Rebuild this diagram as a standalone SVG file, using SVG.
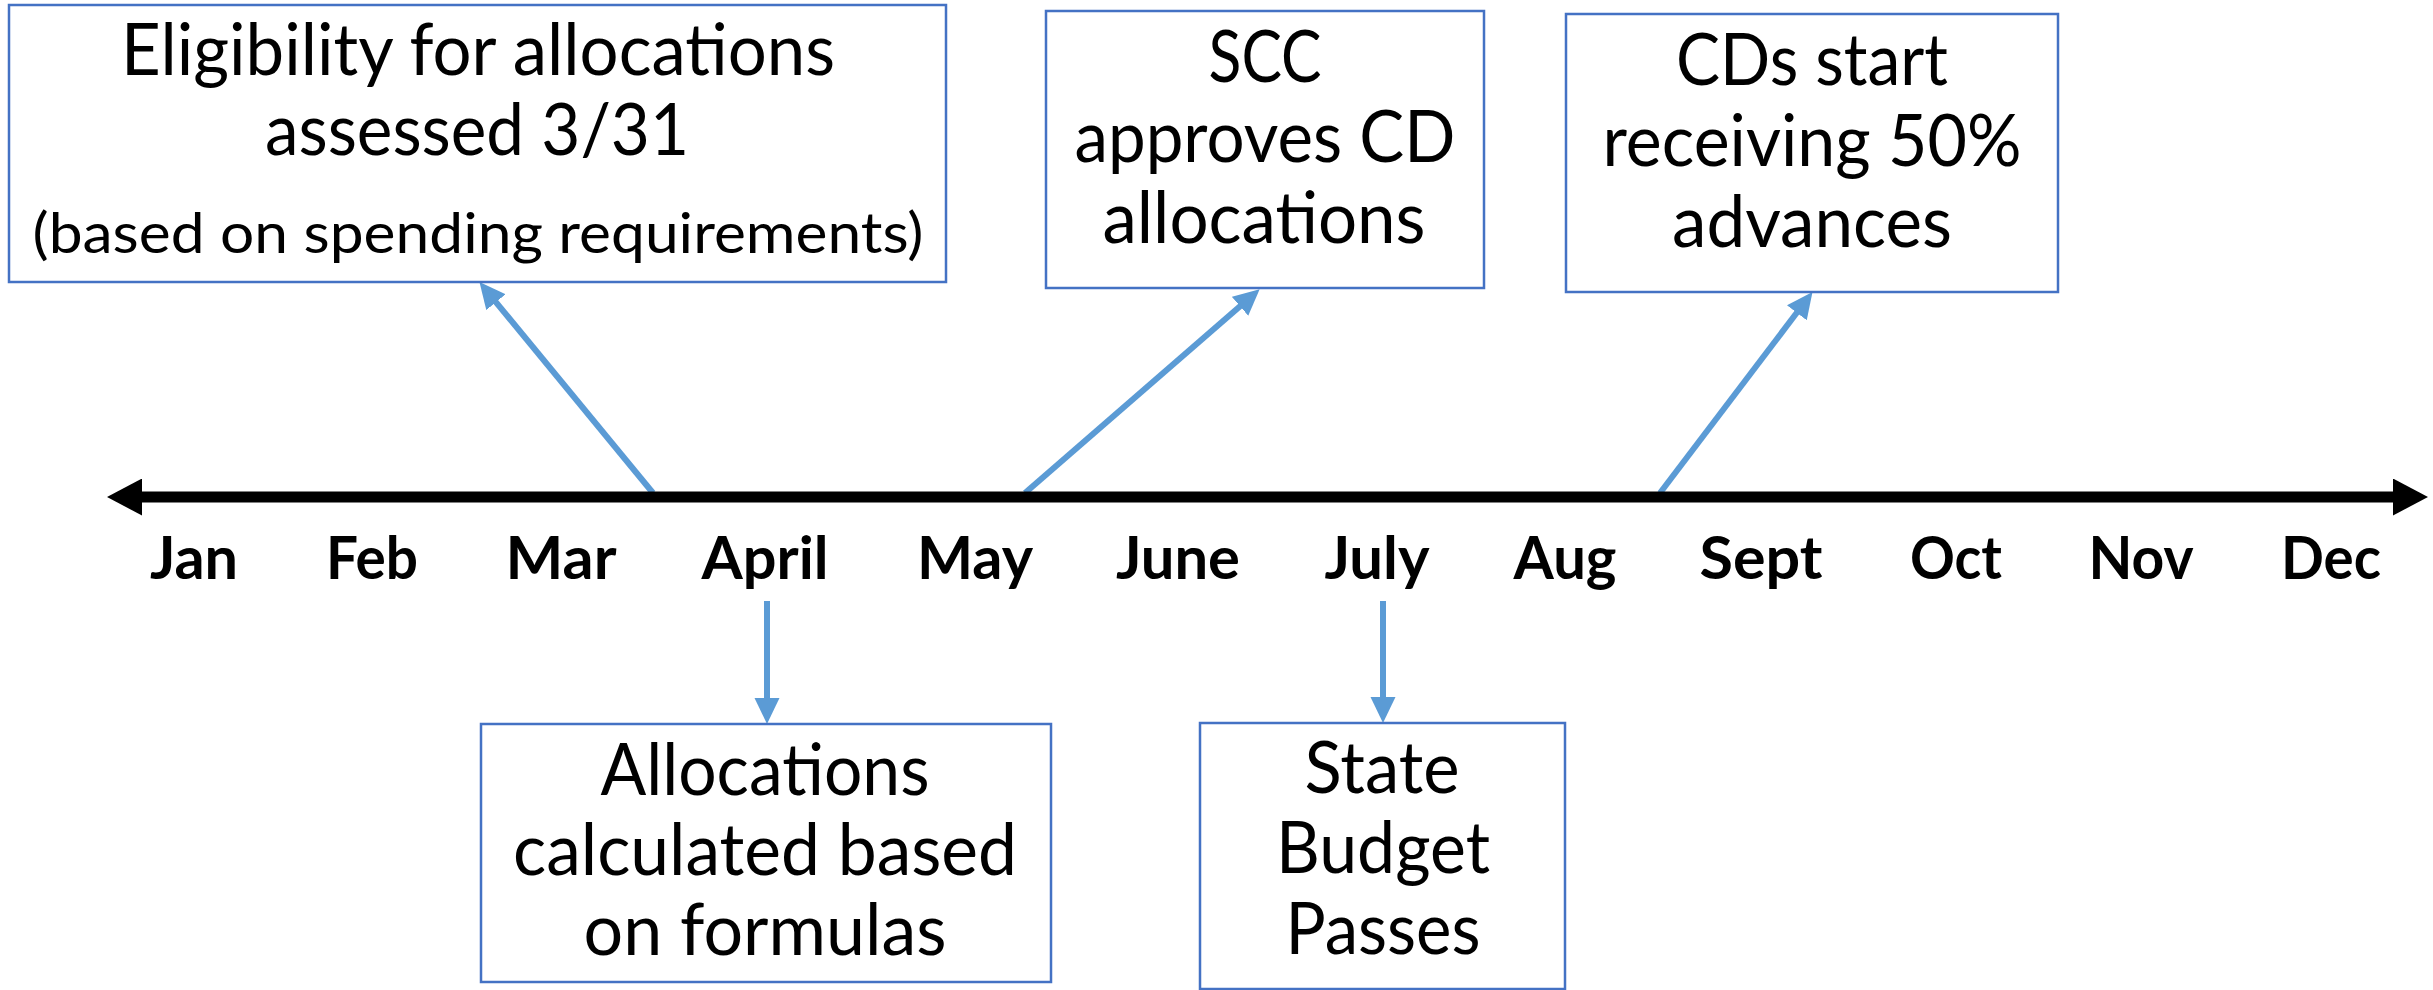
<svg xmlns="http://www.w3.org/2000/svg" width="2433" height="990" viewBox="0 0 2433 990">
<style>
  .box { fill: #ffffff; stroke: #4472C4; stroke-width: 2.5; }
  .t { font-family: Lato, "Open Sans", "Liberation Sans", sans-serif; font-size: 71px; fill: #000000; text-anchor: middle; }
  .ts { font-family: Lato, "Open Sans", "Liberation Sans", sans-serif; font-size: 57px; fill: #000000; text-anchor: middle; }
  .m { font-family: Lato, "Open Sans", "Liberation Sans", sans-serif; font-size: 60px; font-weight: bold; fill: #000000; text-anchor: middle; }
  .conn { stroke: #5B9BD5; stroke-width: 6; fill: none; marker-end: url(#ah); }
  .axis { stroke: #000000; stroke-width: 11; fill: none; marker-start: url(#axh); marker-end: url(#axh); }
</style>
<defs>
  <marker id="ah" markerUnits="userSpaceOnUse" markerWidth="26" markerHeight="26" viewBox="0 0 26 26" refX="5" refY="12.5" orient="auto">
    <path d="M0,0 L26,12.5 L0,25 z" fill="#5B9BD5"/>
  </marker>
  <marker id="axh" markerUnits="userSpaceOnUse" markerWidth="36" markerHeight="37" viewBox="0 0 36 37" refX="1" refY="18.5" orient="auto-start-reverse">
    <path d="M0,0 L35,18.5 L0,37 z" fill="#000000"/>
  </marker>
</defs>

<g id="connectors">
  <line class="conn" x1="653" y1="493" x2="492.8" y2="298.3"/>
  <line class="conn" x1="1025" y1="493" x2="1243.8" y2="303"/>
  <line class="conn" x1="1660" y1="493" x2="1799.8" y2="308.8"/>
  <line class="conn" x1="767" y1="601" x2="767" y2="703"/>
  <line class="conn" x1="1383" y1="601" x2="1383" y2="702"/>
</g>

<g id="timeline">
  <line class="axis" x1="141" y1="497" x2="2394" y2="497"/>
</g>

<g id="months">
  <text class="m" x="194" y="579" textLength="88" lengthAdjust="spacingAndGlyphs">Jan</text>
  <text class="m" x="372" y="579" textLength="92" lengthAdjust="spacingAndGlyphs">Feb</text>
  <text class="m" x="561" y="579" textLength="111" lengthAdjust="spacingAndGlyphs">Mar</text>
  <text class="m" x="765" y="579" textLength="127" lengthAdjust="spacingAndGlyphs">April</text>
  <text class="m" x="975" y="579" textLength="116" lengthAdjust="spacingAndGlyphs">May</text>
  <text class="m" x="1178" y="579" textLength="124" lengthAdjust="spacingAndGlyphs">June</text>
  <text class="m" x="1377" y="579" textLength="105" lengthAdjust="spacingAndGlyphs">July</text>
  <text class="m" x="1565" y="579" textLength="103" lengthAdjust="spacingAndGlyphs">Aug</text>
  <text class="m" x="1761" y="579" textLength="123" lengthAdjust="spacingAndGlyphs">Sept</text>
  <text class="m" x="1956" y="579" textLength="92" lengthAdjust="spacingAndGlyphs">Oct</text>
  <text class="m" x="2141" y="579" textLength="105" lengthAdjust="spacingAndGlyphs">Nov</text>
  <text class="m" x="2331" y="579" textLength="100" lengthAdjust="spacingAndGlyphs">Dec</text>
</g>

<g id="node-eligibility">
  <rect class="box" x="9" y="5" width="937" height="277"/>
  <text class="t" x="478" y="75" textLength="714" lengthAdjust="spacingAndGlyphs">Eligibility for allocations</text>
  <text class="t" x="477" y="155" textLength="424" lengthAdjust="spacingAndGlyphs">assessed 3/31</text>
  <text class="ts" x="478" y="253" textLength="891" lengthAdjust="spacingAndGlyphs">(based on spending requirements)</text>
</g>

<g id="node-scc">
  <rect class="box" x="1046" y="11" width="438" height="277"/>
  <text class="t" x="1265" y="82" textLength="113" lengthAdjust="spacingAndGlyphs">SCC</text>
  <text class="t" x="1265" y="162" textLength="381" lengthAdjust="spacingAndGlyphs">approves CD</text>
  <text class="t" x="1264" y="243" textLength="323" lengthAdjust="spacingAndGlyphs">allocations</text>
</g>

<g id="node-advances">
  <rect class="box" x="1566" y="14" width="492" height="278"/>
  <text class="t" x="1812" y="85" textLength="272" lengthAdjust="spacingAndGlyphs">CDs start</text>
  <text class="t" x="1812" y="166" textLength="419" lengthAdjust="spacingAndGlyphs">receiving 50%</text>
  <text class="t" x="1812" y="247" textLength="280" lengthAdjust="spacingAndGlyphs">advances</text>
</g>

<g id="node-allocations">
  <rect class="box" x="481" y="724" width="570" height="258"/>
  <text class="t" x="765" y="795" textLength="329" lengthAdjust="spacingAndGlyphs">Allocations</text>
  <text class="t" x="765" y="875" textLength="504" lengthAdjust="spacingAndGlyphs">calculated based</text>
  <text class="t" x="765" y="955" textLength="363" lengthAdjust="spacingAndGlyphs">on formulas</text>
</g>

<g id="node-budget">
  <rect class="box" x="1200" y="723" width="365" height="266"/>
  <text class="t" x="1382" y="793" textLength="155" lengthAdjust="spacingAndGlyphs">State</text>
  <text class="t" x="1383" y="873" textLength="214" lengthAdjust="spacingAndGlyphs">Budget</text>
  <text class="t" x="1383" y="954" textLength="195" lengthAdjust="spacingAndGlyphs">Passes</text>
</g>
</svg>
